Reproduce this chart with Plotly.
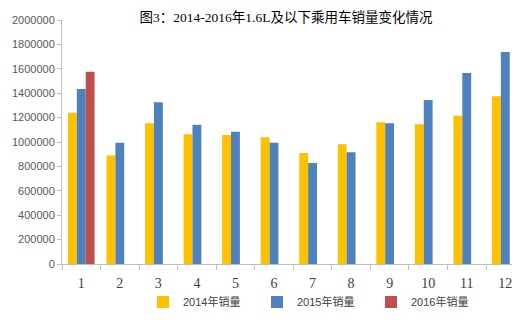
import plotly.graph_objects as go

months = ["1", "2", "3", "4", "5", "6", "7", "8", "9", "10", "11", "12"]
sales_2014 = [1240000, 890000, 1153000, 1063000, 1057000, 1038000, 910000, 981000, 1161000, 1145000, 1216000, 1375000]
sales_2015 = [1434000, 994000, 1325000, 1142000, 1084000, 994000, 828000, 915000, 1153000, 1344000, 1566000, 1738000]
sales_2016 = [1575000, None, None, None, None, None, None, None, None, None, None, None]
series_names = ["2014年销量", "2015年销量", "2016年销量"]
colors = ["#FFC000", "#4F81BD", "#C0504D"]
y_ticks = list(range(0, 2000001, 200000))

fig = go.Figure()
for name, vals, col in zip(series_names, [sales_2014, sales_2015, sales_2016], colors):
    fig.add_trace(go.Bar(x=months, y=vals, name=name, marker=dict(color=col, line=dict(width=0))))

fig.update_layout(
    width=530, height=324,
    margin=dict(l=62, r=18, t=20, b=60),
    paper_bgcolor="white", plot_bgcolor="white",
    barmode="group", bargap=0.31, bargroupgap=0,
    title=dict(text="图3：2014-2016年1.6L及以下乘用车销量变化情况",
               x=286/530, xanchor="center", y=1-17/324, yanchor="middle",
               font=dict(family="Liberation Serif, Noto Sans CJK SC", size=13.5, color="#000000")),
    showlegend=True,
    legend=dict(orientation="h", x=0.18, xanchor="left", xref="paper",
                y=1-302/324, yanchor="middle", yref="container",
                bgcolor="rgba(0,0,0,0)",
                font=dict(family="Liberation Sans, Noto Sans CJK SC", size=11, color="#404040"),
                entrywidth=69, itemwidth=30, traceorder="normal"),
    xaxis=dict(type="category", range=[-0.5, 11.174], showline=True, linecolor="#BFBFBF", linewidth=1,
               ticks="outside", tickson="boundaries", ticklen=5, tickcolor="#BFBFBF",
               showgrid=False, ticklabelstandoff=6, automargin=False,
               tickfont=dict(family="Liberation Serif", size=14, color="#404040")),
    yaxis=dict(range=[0, 2000000], tickvals=y_ticks, tickformat="d", showline=True,
               linecolor="#BFBFBF", linewidth=1, ticks="outside", ticklen=4, tickcolor="#BFBFBF",
               showgrid=False, zeroline=False, automargin=False,
               tickfont=dict(family="Liberation Sans", size=11, color="#595959")),
)

fig.write_html("out.html")
